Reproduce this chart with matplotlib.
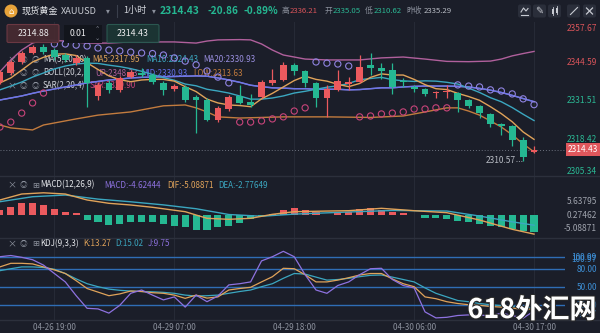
import numpy as np
import matplotlib.pyplot as plt
from matplotlib.patches import FancyBboxPatch, Circle, Rectangle
import matplotlib.patheffects as pe

plt.rcParams['font.family'] = ['Noto Sans CJK SC', 'DejaVu Sans']

# XAUUSD 1h bars, last one is 04-30 17:00
opens = [2337.7, 2340.8, 2344.6, 2347.7, 2349.8, 2348.7, 2347.0, 2344.2, 2346.0, 2332.9,
         2337.4, 2335.0, 2339.4, 2340.8, 2340.1, 2337.4, 2335.3, 2336.0, 2332.5, 2331.5,
         2324.6, 2328.4, 2332.9, 2330.8, 2332.5, 2337.4, 2338.4, 2343.6, 2341.5, 2337.4,
         2332.2, 2335.0, 2337.0, 2337.7, 2343.6, 2342.5, 2341.8, 2338.0, 2336.0, 2335.3,
         2333.9, 2334.3, 2333.9, 2331.5, 2329.4, 2326.7, 2323.2, 2322.6, 2317.7, 2313.6]
highs = [2341.8, 2345.3, 2348.4, 2350.4, 2350.8, 2349.4, 2347.7, 2347.0, 2346.6, 2337.7,
         2338.4, 2339.8, 2341.8, 2342.5, 2340.8, 2338.0, 2337.0, 2336.7, 2333.2, 2332.2,
         2329.4, 2333.2, 2336.7, 2333.6, 2338.4, 2342.2, 2344.6, 2344.2, 2341.8, 2337.7,
         2336.7, 2341.8, 2339.4, 2347.0, 2347.7, 2344.2, 2344.2, 2339.1, 2336.7, 2335.6,
         2334.6, 2336.7, 2334.3, 2331.9, 2329.8, 2327.0, 2323.6, 2322.9, 2318.8, 2315.7]
lows = [2337.0, 2340.1, 2343.9, 2347.3, 2347.3, 2345.3, 2344.6, 2343.6, 2329.1, 2331.5,
        2333.9, 2334.3, 2339.1, 2339.4, 2337.0, 2333.2, 2334.6, 2330.8, 2320.1, 2324.3,
        2323.9, 2327.7, 2330.1, 2329.1, 2332.2, 2336.7, 2338.0, 2340.1, 2336.0, 2329.1,
        2325.7, 2334.6, 2335.0, 2337.4, 2340.1, 2338.7, 2333.6, 2336.0, 2334.3, 2332.9,
        2332.2, 2332.2, 2327.4, 2328.8, 2325.3, 2322.2, 2319.5, 2315.7, 2310.57, 2313.3]
closes = [2341.2, 2344.6, 2347.7, 2349.8, 2348.0, 2346.3, 2345.3, 2346.0, 2337.4, 2336.7,
          2335.0, 2339.1, 2341.2, 2340.1, 2337.7, 2335.0, 2336.3, 2331.5, 2331.5, 2324.6,
          2328.8, 2332.5, 2330.5, 2329.8, 2337.7, 2338.4, 2343.6, 2341.5, 2337.4, 2332.2,
          2335.3, 2338.0, 2337.7, 2342.9, 2342.5, 2341.5, 2336.0, 2337.7, 2335.3, 2333.6,
          2334.3, 2334.6, 2331.5, 2329.4, 2327.0, 2323.2, 2322.6, 2317.7, 2311.9, 2314.43]

ma5 = [2337.4, 2339.1, 2341.8, 2344.6, 2346.2, 2347.3, 2347.4, 2346.8, 2344.3, 2342.0,
       2339.8, 2338.5, 2337.8, 2338.4, 2338.6, 2338.6, 2338.0, 2336.1, 2334.4, 2331.8,
       2330.5, 2329.8, 2329.6, 2329.2, 2331.9, 2333.8, 2336.0, 2338.2, 2339.7, 2338.6,
       2338.0, 2336.9, 2336.1, 2337.2, 2339.3, 2340.5, 2340.1, 2340.1, 2338.6, 2336.8,
       2335.4, 2335.1, 2333.8, 2332.7, 2331.4, 2329.2, 2326.8, 2324.0, 2320.5, 2317.95]
ma10 = [2335.0, 2336.3, 2337.7, 2339.4, 2340.8, 2342.2, 2343.2, 2343.9, 2344.2, 2344.1,
        2343.5, 2343.0, 2342.3, 2341.4, 2340.3, 2339.2, 2338.3, 2337.0, 2336.4, 2335.2,
        2334.6, 2333.9, 2332.9, 2331.8, 2331.8, 2332.2, 2332.9, 2333.9, 2334.5, 2335.2,
        2335.9, 2336.4, 2337.2, 2338.5, 2338.9, 2339.3, 2338.5, 2338.1, 2337.9, 2338.1,
        2338.0, 2337.6, 2337.0, 2335.6, 2334.1, 2332.3, 2330.9, 2328.9, 2326.6, 2324.43]
ma20 = [2331.5, 2332.2, 2332.9, 2333.8, 2334.6, 2335.3, 2336.0, 2336.7, 2337.4, 2337.9,
        2338.4, 2338.7, 2339.1, 2339.3, 2339.4, 2339.5, 2339.6, 2339.7, 2339.8, 2339.7,
        2339.1, 2338.4, 2337.6, 2336.6, 2336.1, 2335.7, 2335.6, 2335.4, 2335.4, 2335.2,
        2335.2, 2335.2, 2335.0, 2335.1, 2335.4, 2335.7, 2335.7, 2336.0, 2336.2, 2336.3,
        2336.3, 2336.3, 2336.2, 2336.0, 2335.5, 2334.9, 2334.1, 2333.1, 2332.0, 2330.93]

boll_up_idx = [0, 1, 2, 3, 4, 6, 8, 10, 12, 14, 16, 18, 19, 20, 22, 23, 24, 25, 26, 28,
               30, 33, 35, 37, 39, 41, 43, 45, 46, 47, 48, 49]
boll_up = [2341.2, 2345.3, 2348.7, 2351.1, 2352.2, 2351.8, 2351.1, 2351.1, 2351.5, 2351.5,
           2351.5, 2351.1, 2351.8, 2352.2, 2352.3, 2352.2, 2350.8, 2348.7, 2347.0, 2345.6,
           2345.3, 2345.3, 2346.0, 2346.3, 2345.6, 2344.8, 2344.7, 2344.9, 2345.6, 2346.7,
           2347.5, 2348.23]
boll_low_idx = [0, 1, 3, 4, 5, 7, 9, 12, 15, 17, 18, 19, 20, 22, 26, 30, 34, 37, 39, 41,
                42, 43, 44, 45, 46, 47, 48, 49]
boll_low = [2322.9, 2321.9, 2321.2, 2322.9, 2323.6, 2325.0, 2326.3, 2327.4, 2329.5, 2329.8,
            2328.8, 2327.4, 2325.7, 2325.3, 2325.7, 2325.7, 2325.5, 2326.0, 2327.4, 2328.8,
            2328.8, 2327.7, 2326.3, 2324.3, 2322.2, 2319.5, 2316.4, 2313.63]

sar = [2322.2, 2323.9, 2327.0, 2330.5, 2333.9, 2350.8, 2350.8, 2350.4, 2350.1, 2349.4,
       2348.7, 2348.4, 2348.0, 2347.7, 2347.5, 2347.0, 2346.0, 2344.9, 2343.6, 2341.5,
       2339.4, 2337.4, 2323.9, 2323.9, 2324.3, 2325.0, 2325.7, 2327.7, 2328.8, 2344.6,
       2344.2, 2343.9, 2343.2, 2325.7, 2326.0, 2326.7, 2327.0, 2327.4, 2328.4, 2328.4,
       2328.8, 2328.8, 2336.7, 2336.3, 2336.0, 2335.0, 2334.6, 2333.6, 2331.9, 2329.90]

macd_hist = [1.22, 2.03, 2.86, 2.86, 2.47, 1.43, 0.73, 0.39, -1.35, -2.03,
             -2.73, -2.47, -2.03, -2.03, -2.03, -2.47, -2.91, -3.32, -4.03, -4.03,
             -3.17, -2.91, -2.29, -1.17, -0.35, 0.2, 1.17, 1.61, 1.25, 0.73,
             -0.15, 0.57, 0.73, 1.43, 1.69, 1.17, 0.57, 0.31, -0.2, -0.99,
             -0.99, -1.17, -1.61, -2.03, -2.47, -2.91, -3.32, -3.77, -4.21, -4.62444]
dif_idx = [0, 2, 4, 6, 8, 10, 12, 14, 17, 19, 21, 23, 25, 27, 30, 32, 35, 38, 41, 44, 47, 49]
dif = [3.77, 5.32, 5.63795, 5.32, 3.77, 2.91, 2.47, 1.87, 0.73, -0.99, -1.25, -0.99,
       0.05, 0.73, 0.9, 0.99, 1.61, 0.99, 0.47, -1.43, -3.84, -5.08871]
dea_idx = [0, 3, 6, 9, 12, 15, 18, 21, 24, 27, 32, 36, 41, 44, 47, 49]
dea = [3.32, 4.62, 5.06, 4.0, 3.3, 2.5, 1.5, 0.0, -0.45, 0.1, 0.65, 1.05, 0.9, -0.4,
       -1.9, -2.77649]

kdj_k = [83, 89, 89, 88, 83, 78, 72, 60, 47, 41, 35, 38, 42.8, 42, 40, 39, 36, 30.6, 36, 31,
         33, 44.5, 47, 49, 58, 66.7, 80.7, 80, 70, 58, 58, 61, 65, 69.5, 72, 72, 63, 55, 50, 33,
         30, 25, 22, 20, 19, 17, 16, 14.5, 12, 13.27]
kdj_d = [76.7, 80, 83, 83, 82, 79, 72, 63, 55, 50, 46, 44, 42.8, 42, 41.5, 40.6, 39, 36, 34.5, 35,
         36, 39, 42, 44.5, 50, 55, 64, 72, 71, 66, 61, 62, 64, 66.7, 69, 69.5, 66, 62, 58, 48,
         39, 33, 27, 25, 22, 20, 18.5, 17, 15.5, 15.02]
kdj_j = [100, 102, 99, 95, 86, 72, 58, 35, 14, 13, 6, 19, 39, 44.5, 36, 28, 33, 16, 36, 25,
         34.5, 53, 55, 58, 93, 100, 108.99, 100, 70, 44.5, 39, 52, 58, 70, 80, 80.7, 62, 52, 48, 8,
         -2, -1, 2, 3, 3, 1, 6, 2, -2.47, 9.75]

time_idx = [5, 16, 27, 38, 49]
time_labels = ['04-26 19:00', '04-29 07:00', '04-29 18:00', '04-30 06:00', '04-30 17:00']
price_ticks = [2357.67, 2344.59, 2331.51, 2318.42, 2305.34]
macd_ticks = ['5.63795', '0.27462', '-5.08871']
kdj_levels = [100, 80, 50, 20]

BG = '#1b1e29'
RED = '#eb5a5e'
GREEN = '#25b892'
C_MA5 = '#e0a35a'
C_MA10 = '#3ba7c0'
C_MA20 = '#9a8fe0'
C_MID = '#6270ec'
C_UP = '#b0609c'
C_LOW = '#c27b3e'
C_SAR_HI = '#8f83e0'
C_SAR_LO = '#c8447a'
C_J = '#8e72e0'
GRID = '#262a36'
TXT = '#d0d3da'
GREY = '#8b909c'

W, H = 600, 333
fig = plt.figure(figsize=(6, 3.33), dpi=100, facecolor=BG)


def panel(top, bottom):
    a = fig.add_axes([0, 1 - bottom / H, 565 / W, (bottom - top) / H])
    a.set_facecolor(BG)
    for s in a.spines.values():
        s.set_visible(False)
    a.set_xlim(0.01, 51.84)
    a.yaxis.tick_right()
    a.tick_params(axis='y', length=0, pad=23, labelsize=6)
    a.set_xticks([])
    for t in time_idx:
        a.axvline(t, color=GRID, lw=0.8, zorder=0)
    return a


ax = panel(22, 176)
axm = panel(176, 238)
axk = panel(238, 320)

ov = fig.add_axes([0, 0, 1, 1], zorder=10)
ov.set_xlim(0, W)
ov.set_ylim(H, 0)
ov.axis('off')
ov.patch.set_alpha(0)

x = np.arange(len(opens))
o, h, l, c = (np.array(v) for v in (opens, highs, lows, closes))
col = np.where(c >= o, RED, GREEN)

# main price panel
ax.set_ylim(2305.35, 2358.36)
ax.vlines(x, l, h, color=col, lw=0.9, zorder=4)
ax.bar(x, np.maximum(np.abs(c - o), 0.25), bottom=np.minimum(o, c), width=0.62,
       color=col, lw=0, zorder=4)
ax.plot(boll_up_idx, boll_up, color=C_UP, lw=1.0, zorder=3)
ax.plot(boll_low_idx, boll_low, color=C_LOW, lw=1.0, zorder=3)
ax.plot(x, ma20, color=C_MA20, lw=1.0, zorder=3)
ax.plot(x, ma20, color=C_MID, lw=1.0, zorder=3, alpha=0.8)
ax.plot(x, ma10, color=C_MA10, lw=1.0, zorder=3)
ax.plot(x, ma5, color=C_MA5, lw=1.0, zorder=3)
s = np.array(sar)
hi = s > c
ax.scatter(x[hi], s[hi], s=20, facecolors='none', edgecolors=C_SAR_HI, lw=0.8, zorder=5)
ax.scatter(x[~hi], s[~hi], s=20, facecolors='none', edgecolors=C_SAR_LO, lw=0.8, zorder=5)
ax.axhline(closes[-1], color='#6c717e', lw=0.7, ls=(0, (1, 2)), zorder=2)
ax.plot([47.35, 47.85], [lows[48], lows[48]], color='#9a9ea8', lw=0.7, ls=(0, (1, 1.5)))
ax.text(47.3, lows[48], f'{lows[48]:.2f}', color='#b8bcc4', fontsize=6,
        ha='right', va='center', zorder=6)

ax.set_yticks(price_ticks)
ax.set_yticklabels([f'{v:.2f}' for v in price_ticks])
for lab, v in zip(ax.get_yticklabels(), price_ticks):
    lab.set_color('#d9545a' if v > 2335.29 else '#2bb894')
    lab.set_horizontalalignment('right')
ax.get_yticklabels()[0].set_verticalalignment('top')
ax.get_yticklabels()[-1].set_verticalalignment('bottom')
ax.text(1.0 + 33 / 565, closes[-1], f'{closes[-1]:.2f}', transform=ax.get_yaxis_transform(),
        ha='right', va='center', color='white', fontsize=6, zorder=8, clip_on=False,
        bbox=dict(boxstyle='square,pad=0.25', fc='#e0575c', ec='none'))

# legend rows of the price panel, drawn under the candles
rows = [
    (60, 'MA(5,10,20)', [(92, 'MA5:2317.95', C_MA5), (146, 'MA10:2324.43', C_MA10),
                         (203, 'MA20:2330.93', C_MA20)]),
    (73, 'BOLL(20,2,2)', [(95, 'UP:2348.23', C_UP), (141, 'MID:2330.93', C_MID),
                          (193, 'LOW:2313.63', C_LOW)]),
    (86, 'SAR(2,20,4)', [(90, 'SAR:2329.90', C_SAR_LO)]),
]
for yy, name, items in rows:
    ax.text(12, yy, '×', transform=ov.transData, color=GREY, fontsize=6.5, ha='center', va='center', zorder=1)
    ax.text(23, yy, '◎', transform=ov.transData, color=GREY, fontsize=5.5, ha='center', va='center', zorder=1)
    ax.text(35, yy, '◎', transform=ov.transData, color=GREY, fontsize=5.5, ha='center', va='center', zorder=1)
    ax.text(43, yy, name, transform=ov.transData, color=TXT, fontsize=5.8, va='center', zorder=1)
    for xx, t, cc in items:
        ax.text(xx, yy, t, transform=ov.transData, color=cc, fontsize=5.8, va='center', zorder=1)

# MACD panel
axm.set_ylim(-6.10, 10.0)
hist = np.array(macd_hist)
axm.bar(x, hist, width=0.65, color=np.where(hist >= 0, RED, GREEN), lw=0, zorder=2)
axm.plot(dea_idx, dea, color=C_MA10, lw=1.0, zorder=3)
axm.plot(dif_idx, dif, color=C_MA5, lw=1.0, zorder=3)
axm.set_yticks([])
# scale labels sit at fixed slots on the right edge of the panel
for yy, t in zip((202, 215, 228.5), macd_ticks):
    ov.text(597, yy, t, color='#a0a4ae', fontsize=6, ha='right', va='center')


def header(a, yy, name, items):
    a.text(12, yy, '×', transform=ov.transData, color=GREY, fontsize=6.5, ha='center', va='center')
    a.text(23, yy, '◎', transform=ov.transData, color=GREY, fontsize=5.5, ha='center', va='center')
    a.text(36, yy, '⊞', transform=ov.transData, color=GREY, fontsize=6, ha='center', va='center')
    a.text(40, yy, name, transform=ov.transData, color='#e6e8ec', fontsize=5.8, va='center')
    for xx, t, cc in items:
        a.text(xx, yy, t, transform=ov.transData, color=cc, fontsize=5.8, va='center')


header(axm, 185, 'MACD(12,26,9)', [(104, 'MACD:-4.62444', C_J), (167, 'DIF:-5.08871', C_MA5),
                                   (218, 'DEA:-2.77649', C_MA10)])

# KDJ panel
axk.set_ylim(-5.5, 131.2)
for lv in kdj_levels:
    axk.axhline(lv, color='#2f6db5', lw=1.0, zorder=1)
axk.plot(x, kdj_d, color=C_MA10, lw=0.9, zorder=3)
axk.plot(x, kdj_k, color=C_MA5, lw=0.9, zorder=3)
axk.plot(x, kdj_j, color=C_J, lw=0.9, zorder=3)
axk.set_yticks([100.99, 80, 50, 20])
axk.set_yticklabels(['100.99', '80.00', '50.00', '20.00'])
for lab in axk.get_yticklabels():
    lab.set_color('#3d8fd6')
    lab.set_horizontalalignment('right')
axk.text(1.0 + 32 / 565, 95.0, '100.97', transform=axk.get_yaxis_transform(), color='#3d8fd6',
         fontsize=6, ha='right', va='center', clip_on=False)
axk.text(1.0 + 32 / 565, 2.9, '-2.47', transform=axk.get_yaxis_transform(), color='#3d8fd6',
         fontsize=6, ha='right', va='center', clip_on=False)
axk.set_xticks(time_idx)
axk.set_xticklabels(time_labels)
axk.tick_params(axis='x', length=0, pad=2, labelsize=5.8, labelcolor=GREY)
header(axk, 244, 'KDJ(9,3,3)', [(83, 'K:13.27', C_MA5), (115, 'D:15.02', C_MA10),
                                (148, 'J:9.75', C_J)])

# panel separators
for yy in (176, 238, 320):
    ov.plot([0, W], [yy, yy], color='#2c303c', lw=1.0)

# top bar
ov.add_patch(Circle((11, 11), 6.5, fc='#e8a33a', ec='none'))
ov.text(11, 11.5, '⌂', color='white', fontsize=6, ha='center', va='center', family='DejaVu Sans')
ov.text(22, 11, '现货黄金', color='#e6e8ec', fontsize=6.6, va='center')
ov.text(61, 11, 'XAUUSD', color='#c8cbd2', fontsize=6.6, va='center')
ov.text(106, 11, '▾', color=GREY, fontsize=5.5, va='center', family='DejaVu Sans')
ov.plot([117, 117], [5, 17], color='#3a3f4c', lw=0.8)
ov.text(123, 11, '1小时', color='#d0d3da', fontsize=6.6, va='center')
ov.text(152, 11, '▾', color=GREY, fontsize=5.5, va='center', family='DejaVu Sans')
ov.text(160, 11, '2314.43', color=GREEN, fontsize=7.4, va='center', weight='bold')
ov.text(207, 11, '-20.86', color=GREEN, fontsize=7.2, va='center', weight='bold')
ov.text(244, 11, '-0.89%', color=GREEN, fontsize=7.2, va='center', weight='bold')
quote = [(282, '高', GREY), (290, '2336.21', '#d9545a'), (325, '开', GREY),
         (333, '2335.05', '#2bb894'), (365, '低', GREY), (374, '2310.62', '#2bb894'),
         (406, '昨收', GREY), (424, '2335.29', '#b8bcc4')]
for xx, t, cc in quote:
    ov.text(xx, 11, t, color=cc, fontsize=5.6, va='center')

for bx in (518, 533, 548, 567, 583):
    ov.add_patch(FancyBboxPatch((bx, 4.5), 13, 13, boxstyle='round,pad=0,rounding_size=2',
                                fc='#2a2e3a', ec='none'))
ic = '#c8cbd2'
ov.plot([521, 523.5, 526, 528], [12, 8, 11, 8.5], color=ic, lw=0.8)
ov.plot([521, 528], [14.5, 14.5], color=ic, lw=0.8)
ov.text(539.5, 11, '✎', color=ic, fontsize=7, ha='center', va='center', family='DejaVu Sans')
ov.add_patch(Rectangle((551.5, 8.5), 2.4, 5, fc=ic, ec='none'))
ov.add_patch(Rectangle((555.6, 7.5), 2.4, 5, fc=ic, ec='none'))
ov.plot([552.7, 552.7], [7, 15], color=ic, lw=0.6)
ov.plot([556.8, 556.8], [6, 14], color=ic, lw=0.6)
ov.plot([570.5, 577.5], [14.5, 7.5], color=ic, lw=0.8)
ov.plot([586.5, 592.5], [8, 14], color=ic, lw=0.9)
ov.plot([586.5, 592.5], [14, 8], color=ic, lw=0.9)

# order ticket row
ov.add_patch(FancyBboxPatch((7, 24.5), 52, 18, boxstyle='round,pad=0,rounding_size=1.5',
                            fc='#472a31', ec='#6e3a44', lw=0.8, alpha=0.95))
ov.text(33, 33.5, '2314.88', color='#ececee', fontsize=6.3, ha='center', va='center')
ov.add_patch(Rectangle((64, 24.5), 38, 18, fc='#12151c', ec='none'))
ov.text(78, 33.5, '0.01', color='#ececee', fontsize=6.3, ha='center', va='center')
ov.text(97.5, 29.5, '⌃', color=GREY, fontsize=4.5, ha='center', va='center', family='DejaVu Sans')
ov.text(97.5, 38, '⌄', color=GREY, fontsize=4.5, ha='center', va='center', family='DejaVu Sans')
ov.add_patch(FancyBboxPatch((107, 24.5), 52, 18, boxstyle='round,pad=0,rounding_size=1.5',
                            fc='#1c3634', ec='#2c5a52', lw=0.8, alpha=0.95))
ov.text(133, 33.5, '2314.43', color='#ececee', fontsize=6.3, ha='center', va='center')

# site mark
ov.text(532, 310, '618外汇网', color='white', fontsize=19.5, weight='bold', ha='center',
        va='center', path_effects=[pe.withStroke(linewidth=1.5, foreground='#2a2a2a')])

fig.savefig('out.png', dpi=100, facecolor=BG)
